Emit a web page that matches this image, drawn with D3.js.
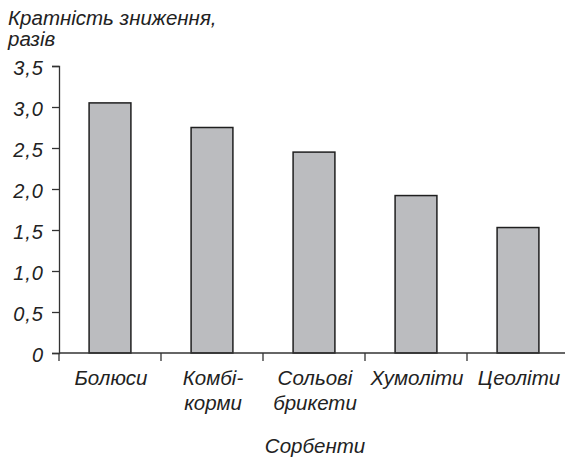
<!DOCTYPE html>
<html>
<head>
<meta charset="utf-8">
<script src="https://cdn.jsdelivr.net/npm/d3@7"></script>
<style>
  body { margin: 0; background: #fff; }
  svg text { font-family: "Liberation Sans", Arial, sans-serif; font-style: italic; fill: #222; }
</style>
</head>
<body>
<svg id="chart" width="565" height="461"></svg>
<script>
const categories = [["Болюси"], ["Комбі-", "корми"], ["Сольові", "брикети"], ["Хумоліти"], ["Цеоліти"]];
const values = [3.05, 2.75, 2.45, 1.92, 1.53];
const yTicks = [0, 0.5, 1.0, 1.5, 2.0, 2.5, 3.0, 3.5];
const yTitle = ["Кратність зниження,", "разів"];
const xTitle = "Сорбенти";

const svg = d3.select("#chart");
const margin = { top: 66, left: 59, bottom: 108, right: 0 };
const width = 565, height = 461;
const plotBottom = height - margin.bottom;

const x = d3.scaleBand()
  .domain(d3.range(categories.length))
  .range([margin.left, margin.left + 102 * 5])
  .paddingInner(0.59)
  .paddingOuter(0.295);

const y = d3.scaleLinear()
  .domain([0, 3.5])
  .range([plotBottom, margin.top]);

// bars
svg.selectAll("rect.bar")
  .data(values)
  .enter()
  .append("rect")
  .attr("class", "bar")
  .attr("x", (d, i) => x(i))
  .attr("y", d => y(d))
  .attr("width", x.bandwidth())
  .attr("height", d => plotBottom - y(d))
  .attr("fill", "#bbbcbf")
  .attr("stroke", "#1f1f1f")
  .attr("stroke-width", 1.5);

// y axis
const yAxis = d3.axisLeft(y)
  .tickValues(yTicks)
  .tickSize(7)
  .tickPadding(8)
  .tickFormat(d => d === 0 ? "0" : d3.format(".1f")(d).replace(".", ","));

const gy = svg.append("g")
  .attr("transform", `translate(${margin.left},0)`)
  .call(yAxis);
gy.select(".domain").attr("stroke", "#333").attr("stroke-width", 1.3);
gy.selectAll(".tick line").attr("stroke", "#333").attr("stroke-width", 1.3);
gy.selectAll(".tick text")
  .style("font-size", "20px")
  .style("letter-spacing", "1px")
  .style("font-family", "'Liberation Sans', Arial, sans-serif")
  .style("font-style", "italic")
  .attr("dy", "0.4em")
  .attr("fill", "#222");

// x axis line and boundary ticks
const step = x.step();
const boundaries = d3.range(categories.length).map(i => margin.left + i * step);
svg.append("line")
  .attr("x1", margin.left).attr("x2", width)
  .attr("y1", plotBottom).attr("y2", plotBottom)
  .attr("stroke", "#333").attr("stroke-width", 1.3);
svg.selectAll("line.xtick")
  .data(boundaries)
  .enter()
  .append("line")
  .attr("class", "xtick")
  .attr("x1", d => d).attr("x2", d => d)
  .attr("y1", plotBottom).attr("y2", plotBottom + 8)
  .attr("stroke", "#333").attr("stroke-width", 1.3);

// category labels
const labels = svg.selectAll("text.cat")
  .data(categories)
  .enter()
  .append("text")
  .attr("class", "cat")
  .attr("text-anchor", "middle")
  .style("font-size", "20.5px");
labels.selectAll("tspan")
  .data((d, i) => d.map(t => ({ t, i })))
  .enter()
  .append("tspan")
  .attr("x", d => x(d.i) + x.bandwidth() / 2 + 1)
  .attr("y", (d, j) => 385 + j * 25)
  .text(d => d.t);

// axis titles
svg.append("text")
  .style("font-size", "20.5px")
  .selectAll("tspan")
  .data(yTitle)
  .enter()
  .append("tspan")
  .attr("x", 8)
  .attr("y", (d, i) => 25 + i * 21)
  .text(d => d);
svg.append("text")
  .attr("x", 315).attr("y", 453)
  .attr("text-anchor", "middle")
  .style("font-size", "20.5px")
  .text(xTitle);
</script>
</body>
</html>
